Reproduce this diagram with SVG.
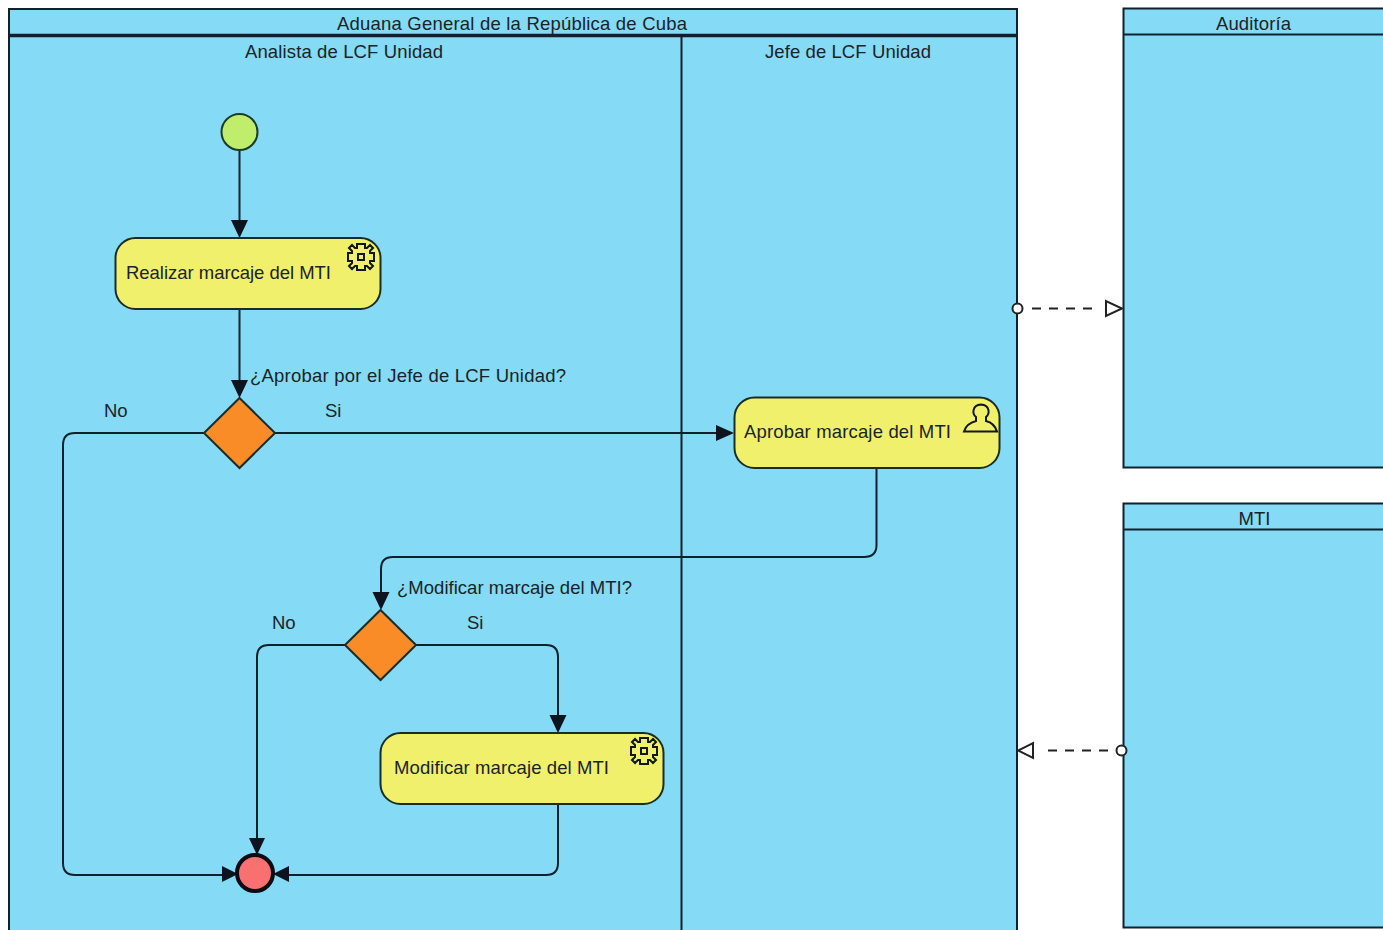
<svg xmlns="http://www.w3.org/2000/svg" width="1383" height="930" viewBox="0 0 1383 930">
<style>
text{font-family:"Liberation Sans",Arial,sans-serif;font-size:18.500px;fill:#1a2428}
.mid{text-anchor:middle}
.pool{fill:#85daf5;stroke:#10202c;stroke-width:2}
.line{fill:none;stroke:#10202c;stroke-width:2}
.task{fill:#f0f06c;stroke:#1a2c28;stroke-width:2}
.gw{fill:#f98c26;stroke:#1a2c28;stroke-width:2}
.ic{fill:none;stroke:#10181c;stroke-width:2}
.flow{fill:none;stroke:#10202c;stroke-width:2}
.dash{fill:none;stroke:#222;stroke-width:2;stroke-dasharray:9 8}
.ah{fill:#0c1420;stroke:none}
.oh{fill:#fff;stroke:#222;stroke-width:2}
</style>
<defs>
<path id="gear" class="ic" d="M-4-13H4V-9H6L9-12 12-9 9-6V-4H13V4H9V6L12 9 9 12 6 9H4V13H-4V9H-6L-9 12-12 9-9 6V4H-13V-4H-9V-6L-12-9-9-12-6-9H-4Z M-3-3H3V3H-3Z"/>
</defs>
<rect width="1383" height="930" fill="#fff"/>
<g id="pool-aduana">
<rect class="pool" x="9" y="9" width="1008" height="930"/>
<path d="M9 35.500H1017" stroke="#10202c" stroke-width="3.500" fill="none"/>
<path class="line" d="M681.500 36V930"/>
<text x="337" y="30" textLength="350">Aduana General de la República de Cuba</text>
<text x="245" y="58" textLength="198">Analista de LCF Unidad</text>
<text x="765" y="58" textLength="166">Jefe de LCF Unidad</text>
</g>
<g id="pool-auditoria">
<rect class="pool" x="1123.500" y="8.500" width="270" height="459"/>
<path class="line" d="M1123 34.500H1383"/>
<text x="1216" y="30" textLength="75">Auditoría</text>
</g>
<g id="pool-mti">
<rect class="pool" x="1123.500" y="503.500" width="270" height="424"/>
<path class="line" d="M1123 529.500H1383"/>
<text class="mid" x="1254.500" y="525">MTI</text>
</g>
<g id="connectors">
<path class="flow" d="M239.500 150V220"/>
<path class="ah" d="M231 220H248L239.500 238Z"/>
<path class="flow" d="M239.500 309V380"/>
<path class="ah" d="M231 380H248L239.500 398Z"/>
<path class="flow" d="M275 433H716"/>
<path class="ah" d="M716 425V441L734 433Z"/>
<path class="flow" d="M204 433H75Q63 433 63 445V863Q63 875 75 875H224"/>
<path class="ah" d="M222 866V882L238 874Z"/>
<path class="flow" d="M876.500 468V545Q876.500 557 864 557H393Q381 557 381 569V592"/>
<path class="ah" d="M372.500 592H389.500L381 610Z"/>
<path class="flow" d="M345 645H269Q257 645 257 657V838"/>
<path class="ah" d="M249 838H265L257 855Z"/>
<path class="flow" d="M416 645H546Q558 645 558 657V715"/>
<path class="ah" d="M549.500 715H566.500L558 733Z"/>
<path class="flow" d="M558 804V863Q558 875 546 875H288"/>
<path class="ah" d="M289 866V882L273 874Z"/>
<path class="dash" d="M1032 308.500H1100"/>
<path class="oh" d="M1106 301V316L1122 308.500Z"/>
<circle class="oh" cx="1017.500" cy="308.500" r="5"/>
<path class="dash" d="M1108 750.500H1040"/>
<path class="oh" d="M1033 743V758L1018 750.500Z"/>
<circle class="oh" cx="1121.500" cy="750.500" r="5"/>
</g>
<g id="start"><circle cx="239.500" cy="132" r="18" fill="#c0ee6c" stroke="#1a3c28" stroke-width="2"/></g>
<g id="task-realizar">
<rect class="task" x="115.500" y="238" width="265" height="71" rx="20"/>
<use href="#gear" x="361" y="257"/>
<text x="126" y="279" textLength="205">Realizar marcaje del MTI</text>
</g>
<g id="gw-aprobar">
<path class="gw" d="M239.500 398L275 433 239.500 468 204 433Z"/>
<text x="250" y="382" textLength="316">¿Aprobar por el Jefe de LCF Unidad?</text>
<text x="104" y="417">No</text>
<text x="325" y="417">Si</text>
</g>
<g id="task-aprobar">
<rect class="task" x="734.500" y="397.500" width="265" height="70.500" rx="20"/>
<path class="ic" d="M964 431.500H997C995 425 990 422 986 421V417C990 414 990 405 981 404.500 972 405 972 414 976 417V421C972 422 966 425 964 431.500Z"/>
<text x="744" y="438" textLength="207">Aprobar marcaje del MTI</text>
</g>
<g id="gw-modificar">
<path class="gw" d="M380.500 610L416 645 380.500 680 345 645Z"/>
<text x="397" y="594" textLength="235">¿Modificar marcaje del MTI?</text>
<text x="272" y="629">No</text>
<text x="467" y="629">Si</text>
</g>
<g id="task-modificar">
<rect class="task" x="380.500" y="733" width="283" height="71" rx="20"/>
<use href="#gear" x="644" y="751"/>
<text x="394" y="774" textLength="215">Modificar marcaje del MTI</text>
</g>
<g id="end"><circle cx="255" cy="873" r="18" fill="#f87070" stroke="#0c0c14" stroke-width="4"/></g>
</svg>
